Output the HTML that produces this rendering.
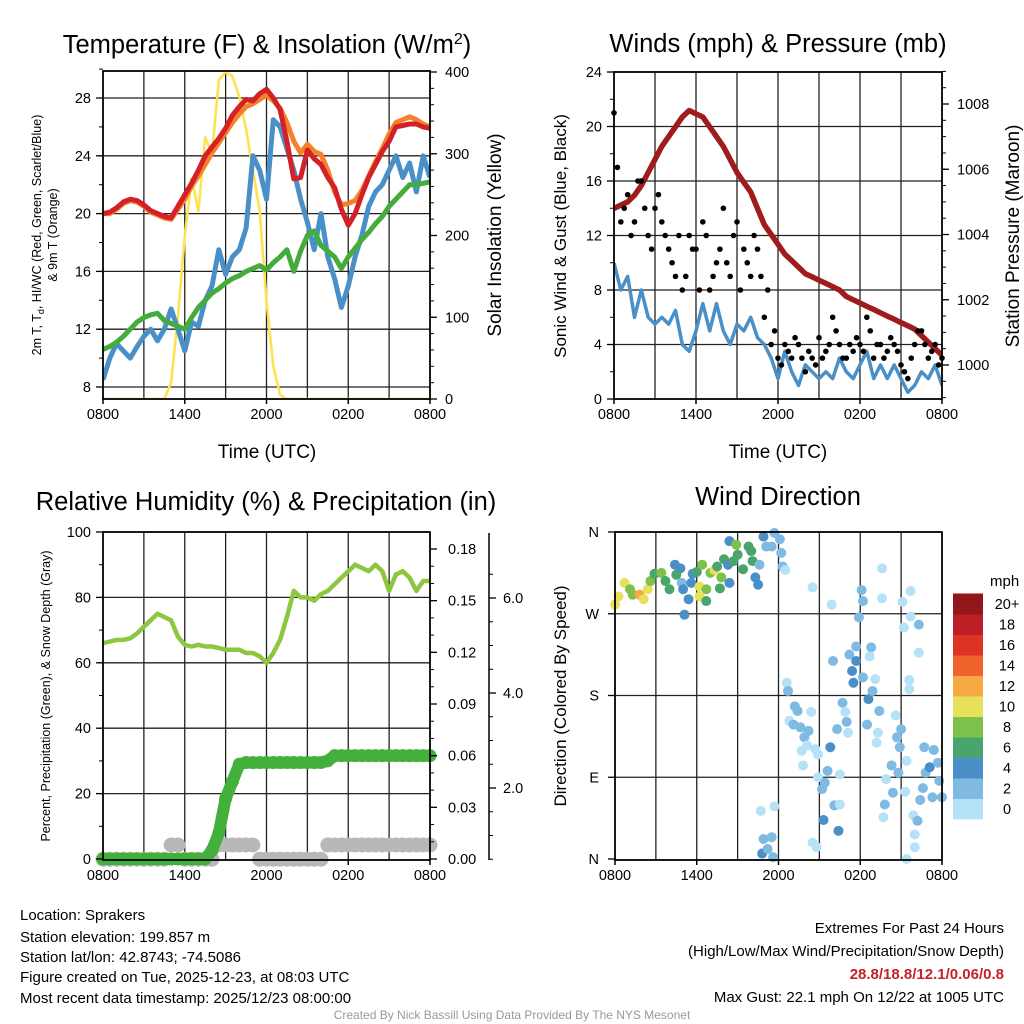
<!DOCTYPE html>
<html><head><meta charset="utf-8">
<style>
html,body{margin:0;padding:0;background:#fff;}
svg{display:block;font-family:"Liberation Sans",Arial,sans-serif;}
</style></head>
<body>
<svg id="c" width="1024" height="1024" viewBox="0 0 1024 1024" xmlns="http://www.w3.org/2000/svg">
<rect x="0" y="0" width="1024" height="1024" fill="#fff"/>
<g id="g"></g>
<text x="267" y="53" font-size="25.5" text-anchor="middle">Temperature (F) &amp; Insolation (W/m<tspan dy="-9" font-size="16">2</tspan><tspan dy="9">)</tspan></text>
<text x="778" y="52" font-size="25.5" text-anchor="middle">Winds (mph) &amp; Pressure (mb)</text>
<text x="266" y="510" font-size="25.5" text-anchor="middle">Relative Humidity (%) &amp; Precipitation (in)</text>
<text x="778" y="505" font-size="25.5" text-anchor="middle">Wind Direction</text>
<text x="267" y="458" font-size="19" text-anchor="middle">Time (UTC)</text>
<text x="778" y="458" font-size="19" text-anchor="middle">Time (UTC)</text>
<text transform="translate(41,235) rotate(-90)" font-size="12.5" text-anchor="middle">2m T, T<tspan dy="3" font-size="9">d</tspan><tspan dy="-3">, HI/WC (Red, Green, Scarlet/Blue)</tspan></text>
<text transform="translate(57,235) rotate(-90)" font-size="12.5" text-anchor="middle">&amp; 9m T (Orange)</text>
<text transform="translate(501,235) rotate(-90)" font-size="19" text-anchor="middle">Solar Insolation (Yellow)</text>
<text transform="translate(566,236) rotate(-90)" font-size="17" text-anchor="middle">Sonic Wind &amp; Gust (Blue, Black)</text>
<text transform="translate(1019,236) rotate(-90)" font-size="19" text-anchor="middle">Station Pressure (Maroon)</text>
<text transform="translate(50,696) rotate(-90)" font-size="12.5" text-anchor="middle">Percent, Precipitation (Green), &amp; Snow Depth (Gray)</text>
<text transform="translate(566,696) rotate(-90)" font-size="17" text-anchor="middle">Direction (Colored By Speed)</text>
<text x="990" y="586" font-size="15">mph</text>
<g font-size="15">
<text x="20" y="920">Location: Sprakers</text>
<text x="20" y="942">Station elevation: 199.857 m</text>
<text x="20" y="962">Station lat/lon: 42.8743; -74.5086</text>
<text x="20" y="982">Figure created on Tue, 2025-12-23, at 08:03 UTC</text>
<text x="20" y="1003">Most recent data timestamp: 2025/12/23 08:00:00</text>
</g>
<g font-size="15" text-anchor="end">
<text x="1004" y="933">Extremes For Past 24 Hours</text>
<text x="1004" y="956">(High/Low/Max Wind/Precipitation/Snow Depth)</text>
<text x="1004" y="979" fill="#c4212a" font-weight="bold">28.8/18.8/12.1/0.06/0.8</text>
<text x="1004" y="1002">Max Gust: 22.1 mph On 12/22 at 1005 UTC</text>
</g>
<text x="512" y="1019" font-size="12" fill="#999" text-anchor="middle">Created By Nick Bassill Using Data Provided By The NYS Mesonet</text>
</svg>
<script>
// ---- data (half-hourly, hour 0 = 0800 UTC) ----
const xTickLabels = ["0800","1400","2000","0200","0800"];
const tempRed = [20.0,20.1,20.4,20.8,21.0,20.9,20.6,20.2,20.0,19.8,19.7,20.5,21.3,22.1,23.0,24.0,24.6,25.2,25.9,26.8,27.4,27.9,27.8,28.3,28.6,28.0,27.2,25.0,22.4,22.5,24.4,23.8,23.4,22.5,21.8,20.3,19.2,20.0,21.3,22.5,23.4,24.3,25.0,26.0,26.1,26.2,26.2,26.0,25.9];
const tempOrange = [20.0,20.0,20.3,20.7,20.9,20.8,20.5,20.1,19.9,19.7,19.6,20.3,21.0,21.9,22.6,23.4,24.2,24.9,25.6,26.3,26.9,27.4,27.6,27.9,28.2,27.8,27.3,26.3,25.0,24.2,24.8,24.3,24.1,23.0,21.5,20.6,20.7,20.9,21.6,22.6,23.6,24.5,25.5,26.3,26.5,26.7,26.5,26.2,26.0];
const tempDew = [10.6,10.8,11.1,11.5,12.0,12.5,12.8,13.0,13.1,12.6,12.4,12.2,12.0,12.8,13.5,14.0,14.5,14.8,15.2,15.5,15.7,16.0,16.2,16.4,16.1,16.6,17.0,17.5,16.0,17.4,18.5,18.8,17.8,17.4,17.0,16.2,17.0,17.6,18.2,18.7,19.3,19.8,20.5,21.0,21.5,22.0,22.0,22.1,22.2];
const tempChill = [8.5,10.0,11.0,10.5,10.0,10.8,11.5,12.0,11.2,12.0,13.4,12.0,10.5,12.5,12.2,14.0,15.0,17.5,15.8,17.0,17.5,19.0,24.0,23.0,21.0,26.5,26.0,24.5,23.0,21.0,19.4,17.5,20.0,17.0,15.5,13.5,15.0,17.0,18.5,20.5,21.5,22.0,23.0,24.0,22.5,23.5,21.5,24.0,22.5];
const solar = [0,0,0,0,0,0,0,0,0,0,20,100,200,270,230,320,300,390,400,395,370,330,280,230,120,40,5,0,0,0,0,0,0,0,0,0,0,0,0,0,0,0,0,0,0,0,0,0,0];
const windSpeed = [10,8,9,6,8,6,5.5,6,5.5,6.5,4,3.5,5,7,5,7,5,4,5.5,5,6,4.5,4,3,1.5,3.5,2,1,2.5,2,1.5,2,1.5,3,2,1.5,2.5,3.5,1.5,2.5,1.5,2.5,1.5,0.5,1,2,1.5,2.5,1];
const windGust = [21,13,15,13,16,12,14,13,11,9,8,12,11,13,8,10,14,9,13,11,9,11,6,4,3,4,3,4,2,3,4.5,3.5,6,4,3,3.5,4,6,3,4,3.5,4,2.5,1.5,4,5,3,4,3];
const windGustB = [17,14,12,16,14,11,15,12,10,12,9,11,8,12,9,11,10,12,8,10,12,9,8,5,2.5,3.5,4.5,3,3.5,2.5,3,4,5,3,4,4.5,3.5,5,4,3,4.5,3.5,2,3,5,4,3.5,2.5];
const pressure = [1004.8,1004.9,1005.0,1005.2,1005.5,1005.9,1006.3,1006.7,1007.0,1007.3,1007.6,1007.8,1007.7,1007.6,1007.3,1007.0,1006.7,1006.3,1005.9,1005.6,1005.3,1004.8,1004.3,1004.0,1003.7,1003.4,1003.2,1003.0,1002.8,1002.7,1002.6,1002.5,1002.4,1002.3,1002.1,1002.0,1001.9,1001.8,1001.7,1001.6,1001.5,1001.4,1001.3,1001.2,1001.1,1000.9,1000.7,1000.5,1000.3];
const relHum = [66,66.5,67,67,67.5,69,71,73,75,74,73,68,65.5,65,65.5,65,65,64.5,64,64,64,63,63,62,60,63,67,74,82,80,80,79,81,82,84,86,88,90,89,88,90,88,82,87,88,86,82,85,85];
const precip = [0,0,0,0,0,0,0,0,0,0,0,0,0,0,0,0,0.005,0.015,0.035,0.045,0.055,0.056,0.056,0.056,0.056,0.056,0.056,0.056,0.056,0.056,0.056,0.056,0.056,0.057,0.06,0.06,0.06,0.06,0.06,0.06,0.06,0.06,0.06,0.06,0.06,0.06,0.06,0.06,0.06];
const snowDepth = [0.5,0.5,0.5,0.5,0.5,0.5,0.5,0.5,0.5,0.5,0.8,0.8,0.5,0.5,0.5,0.5,0.5,0.8,0.8,0.8,0.8,0.8,0.8,0.5,0.5,0.5,0.5,0.5,0.5,0.5,0.5,0.5,0.5,0.8,0.8,0.8,0.8,0.8,0.8,0.8,0.8,0.8,0.8,0.8,0.8,0.8,0.8,0.8,0.8];
const dirHours = [0,0.25,0.7,1.1,1.3,1.8,2.1,2.4,2.6,2.9,3.4,3.7,4.0,4.4,4.8,4.5,4.9,5.0,5.1,5.4,5.6,5.7,6.0,6.2,6.4,6.2,6.7,6.7,7.0,7.3,7.5,7.7,7.8,8.0,8.4,8.3,8.4,8.7,8.9,9.0,9.4,9.8,10.0,10.1,10.3,10.5,10.6,10.9,11.1,11.5,11.7,12.1,12.2,12.3,12.5,
10.7,10.9,11.5,10.8,11.2,11.6,11.7,12.6,12.7,13.2,13.4,12.8,13.1,13.6,14.2,13.9,13.7,14.1,14.4,13.8,14.7,14.9,14.9,15.2,15.4,14.5,14.8,14.5,15.9,15.8,15.6,16.0,15.3,16.3,16.1,16.4,16.5,16.5,16.7,16.9,17.0,17.1,17.2,17.4,17.5,17.7,17.7,17.9,18.1,18.2,18.2,18.5,18.6,18.8,18.7,18.9,19.1,19.3,19.4,19.6,19.6,19.2,19.8,19.7,19.9,20.3,20.4,20.6,20.7,20.9,21.0,20.8,21.1,21.2,21.4,21.3,21.4,21.7,21.7,21.6,21.6,21.9,22.0,22.0,22.2,22.3,22.3,22.4,22.6,22.7,22.8,23.1,23.3,23.4,23.7,23.8,24.0];
const dirDegrees = [280,289,304,297,291,291,286,297,306,314,315,306,297,324,320,313,304,297,269,286,304,314,316,300,324,289,297,284,315,318,322,298,310,330,350,324,304,328,346,335,319,344,339,328,310,302,324,355,344,344,359,352,337,322,318,
53,22,24,6,11,2,58,194,185,168,163,152,148,145,141,134,119,125,162,103,121,115,90,77,84,18,13,299,280,123,97,218,43,143,59,31,60,93,172,162,151,139,225,207,194,234,218,266,296,284,200,148,176,233,223,185,198,139,163,320,287,128,60,46,88,103,73,158,134,123,143,95,283,255,108,74,0,295,267,187,197,48,27,13,42,258,227,65,78,123,95,101,68,120,106,86,68];
const dirSpeeds = [10.5,10.5,10.5,8.5,8.5,12.5,10.5,10.5,8.5,6.5,8.5,6.5,6.5,4.5,4.5,6.5,2.5,4.5,4.5,4.5,4.5,4.5,6.5,10.5,8.5,10.5,8.5,6.5,8.5,10.5,6.5,6.5,8.5,6.5,4.5,4.5,4.5,6.5,8.5,6.5,6.5,6.5,6.5,6.5,4.5,4.5,2.5,4.5,2.5,2.5,2.5,2.5,2.5,2.5,0.5,
0.5,2.5,2.5,4.5,2.5,2.5,0.5,0.5,2.5,2.5,2.5,0.5,2.5,2.5,2.5,2.5,0.5,0.5,0.5,0.5,0.5,0.5,0.5,2.5,2.5,0.5,0.5,0.5,0.5,4.5,2.5,2.5,4.5,2.5,2.5,4.5,0.5,0.5,2.5,0.5,2.5,0.5,2.5,4.5,4.5,2.5,4.5,2.5,2.5,2.5,2.5,2.5,4.5,2.5,0.5,2.5,0.5,0.5,2.5,0.5,0.5,0.5,2.5,0.5,0.5,2.5,2.5,0.5,2.5,2.5,2.5,2.5,0.5,0.5,0.5,0.5,0.5,0.5,0.5,0.5,0.5,0.5,0.5,0.5,2.5,2.5,0.5,2.5,2.5,2.5,2.5,4.5,2.5,2.5,2.5,2.5,2.5];
const speedColors = ["#b5e2f7","#7fbae2","#4a8fc6","#4aa56c","#7dc04b","#e6e05a","#f6a945","#f0622c","#dd3327","#bd1f26","#93161a"];
const speedLabels = ["0","2","4","6","8","10","12","14","16","18","20+"];

// ---- drawing ----
const NS = "http://www.w3.org/2000/svg";
const G = document.getElementById("g");
function mk(tag, attrs, parent) {
  const e = document.createElementNS(NS, tag);
  for (const k in attrs) e.setAttribute(k, attrs[k]);
  (parent || G).appendChild(e);
  return e;
}
function lin(d0, d1, r0, r1) { return v => r0 + (v - d0) * (r1 - r0) / (d1 - d0); }
function pathOf(arr, xs, ys) { return arr.map((v, i) => (i ? "L" : "M") + xs(i * 0.5).toFixed(1) + "," + ys(v).toFixed(1)).join(""); }

function panelFrame(name, x0, x1, y0, y1, hGrid) {
  const xs = lin(0, 24, x0, x1);
  for (let h = 3; h < 24; h += 3) {
    const l = mk("line", {x1: xs(h), x2: xs(h), y1: y0, y2: y1, stroke: "#222", "stroke-width": 1.3});
    
    
  }
  hGrid.forEach(y => {
    const l = mk("line", {x1: x0, x2: x1, y1: y, y2: y, stroke: "#222", "stroke-width": 1.3});
    
    
  });
  const ty = y1 + 20;
  xTickLabels.forEach((t, i) => {
    const xx = xs(i * 6);
    const tk = mk("line", {x1: xx, x2: xx, y1: y1, y2: y1 + 5, stroke: "#000", "stroke-width": 1.5});
    
    
    const tx = mk("text", {x: xx, y: ty, "font-size": 14.5, "text-anchor": "middle"});
    tx.textContent = t;
    
    
  });
  return xs;
}
function frameBox(name, x0, x1, y0, y1) {
  const r = mk("rect", {x: x0, y: y0, width: x1 - x0, height: y1 - y0, fill: "none", stroke: "#000", "stroke-width": 1.8});
  
  
}
function yAxis(name, xAxis, side, ys, vals, labels, minors, dx) {
  const dir = side === "left" ? -1 : 1;
  minors.forEach(v => {
    const t = mk("line", {x1: xAxis, x2: xAxis + dir * 4, y1: ys(v), y2: ys(v), stroke: "#000", "stroke-width": 1});
    
    
  });
  vals.forEach((v, i) => {
    const t = mk("line", {x1: xAxis, x2: xAxis + dir * 7, y1: ys(v), y2: ys(v), stroke: "#000", "stroke-width": 1.3});
    
    
    const tx = mk("text", {x: xAxis + dir * (dx || 10), y: ys(v) + 5, "font-size": 14.5, "text-anchor": side === "left" ? "end" : "start"});
    tx.textContent = labels[i];
    
    
  });
}
function range(a, b, s) { const r = []; for (let v = a; v <= b + 1e-9; v += s) r.push(+v.toFixed(4)); return r; }

// Panel 1: temperature
(function () {
  const x0 = 103, x1 = 430, y0 = 71, y1 = 399;
  const ys = lin(8, 28, 387, 98);
  const ysS = lin(0, 400, 399, 72);
  const xs = panelFrame("temp", x0, x1, y0, y1, [8, 12, 16, 20, 24, 28].map(ys));
  const clip = mk("clipPath", {id: "c1"});
  
  
  mk("rect", {x: x0, y: y0, width: x1 - x0, height: y1 - y0}, clip);
  const series = [[solar, "#fde253", 2.6, ysS, "solar-line"], [tempChill, "#4a90c8", 5, ys, "windchill-line"], [tempDew, "#43ac3b", 5, ys, "dewpoint-line"], [tempOrange, "#f5822a", 5, ys, "temp9m-line"], [tempRed, "#d42027", 5, ys, "temp2m-line"]];
  series.forEach(s => {
    const p = mk("path", {d: pathOf(s[0], xs, s[3]), fill: "none", stroke: s[1], "stroke-width": s[2], "stroke-linejoin": "round", "clip-path": "url(#c1)"});
    
    
  });
  frameBox("temp", x0, x1, y0, y1);
  yAxis("temp-y", x0, "left", ys, [8, 12, 16, 20, 24, 28], ["8", "12", "16", "20", "24", "28"], range(8, 30, 2), 12);
  yAxis("solar-y", x1, "right", ysS, [0, 100, 200, 300, 400], ["0", "100", "200", "300", "400"], range(0, 400, 20), 15);
})();

// Panel 2: winds
(function () {
  const x0 = 614, x1 = 942, y0 = 72, y1 = 399;
  const ys = lin(0, 24, 399, 72);
  const ysP = lin(1000, 1008, 365, 104);
  const xs = panelFrame("wind", x0, x1, y0, y1, [4, 8, 12, 16, 20].map(ys));
  const clip = mk("clipPath", {id: "c2"});
  
  
  mk("rect", {x: x0, y: y0, width: x1 - x0, height: y1 - y0}, clip);
  const wl = mk("path", {d: pathOf(windSpeed, xs, ys), fill: "none", stroke: "#4a90c8", "stroke-width": 3.5, "stroke-linejoin": "round", "clip-path": "url(#c2)"});
  
  
  const pl = mk("path", {d: pathOf(pressure, xs, ysP), fill: "none", stroke: "#a01c1c", "stroke-width": 5.5, "stroke-linejoin": "round", "clip-path": "url(#c2)"});
  
  
  windGust.forEach((v, i) => {
    const c = mk("circle", {cx: xs(i * 0.5), cy: ys(v), r: 2.8, fill: "#000"});
    
    
  });
  windGustB.forEach((v, i) => {
    const c = mk("circle", {cx: xs(i * 0.5 + 0.25), cy: ys(v), r: 2.8, fill: "#000"});
    
    
  });
  frameBox("wind", x0, x1, y0, y1);
  yAxis("wind-y", x0, "left", ys, [0, 4, 8, 12, 16, 20, 24], ["0", "4", "8", "12", "16", "20", "24"], range(0, 24, 2), 12);
  yAxis("pressure-y", x1, "right", ysP, [1000, 1002, 1004, 1006, 1008], ["1000", "1002", "1004", "1006", "1008"], range(999, 1009, 0.5), 15);
})();

// Panel 3: RH & precip
(function () {
  const x0 = 103, x1 = 430, y0 = 532, y1 = 860;
  const ys = lin(0, 100, 859, 532);
  const ysPr = lin(0, 0.18, 859, 549);
  const ysSn = lin(0, 2, 883, 788);
  const xs = panelFrame("rh", x0, x1, y0, y1, [20, 40, 60, 80].map(ys));
  const clip = mk("clipPath", {id: "c3"});
  
  
  mk("rect", {x: x0 - 10, y: y0, width: x1 - x0 + 20, height: y1 - y0 + 10}, clip);
  snowDepth.forEach((v, i) => {
    const c = mk("circle", {cx: xs(i * 0.5), cy: ysSn(v), r: 7.5, fill: "#b8b8b8", "clip-path": "url(#c3)"});
    
    
  });
  precip.forEach((v, i) => {
    const c = mk("circle", {cx: xs(i * 0.5), cy: ysPr(v), r: 6.5, fill: "#44b03c"});
    
    
  });
  const pl = mk("path", {d: pathOf(precip, xs, ysPr), fill: "none", stroke: "#44b03c", "stroke-width": 12, "stroke-linejoin": "round"});
  
  
  const rl = mk("path", {d: pathOf(relHum, xs, ys), fill: "none", stroke: "#8dc63f", "stroke-width": 4.5, "stroke-linejoin": "round"});
  
  
  frameBox("rh", x0, x1, y0, y1);
  yAxis("rh-y", x0, "left", ys, [0, 20, 40, 60, 80, 100], ["0", "20", "40", "60", "80", "100"], range(0, 100, 10), 12);
  yAxis("precip-y", x1, "right", ysPr, [0, 0.03, 0.06, 0.09, 0.12, 0.15, 0.18], ["0.00", "0.03", "0.06", "0.09", "0.12", "0.15", "0.18"], range(0, 0.18, 0.01), 18);
  const sx = 489;
  const ax = mk("line", {x1: sx, x2: sx, y1: 533, y2: 860, stroke: "#000", "stroke-width": 1.5});
  
  
  yAxis("snow-y", sx, "right", ysSn, [2, 4, 6], ["2.0", "4.0", "6.0"], range(0.5, 6.5, 0.5), 14);
})();

// Panel 4: wind direction
(function () {
  const x0 = 615, x1 = 942, y0 = 532, y1 = 860;
  const ys = lin(0, 360, 859, 532);
  const xs = panelFrame("dir", x0, x1, y0, y1, [90, 180, 270].map(ys));
  dirHours.forEach((h, i) => {
    const idx = Math.min(10, Math.floor(dirSpeeds[i] / 2));
    const c = mk("circle", {cx: xs(h), cy: ys(dirDegrees[i]), r: 5, fill: speedColors[idx]});
    
    
  });
  frameBox("dir", x0, x1, y0, y1);
  yAxis("dir-y", x0, "left", ys, [0, 90, 180, 270, 360], ["N", "E", "S", "W", "N"], [], 16);
  const bx = 953, by = 819, bh = 20.5;
  speedColors.forEach((col, i) => {
    const r = mk("rect", {x: bx, y: by - (i + 1) * bh, width: 30, height: bh + 0.5, fill: col});
    
    
    const t = mk("text", {x: 1007, y: by - i * bh - bh / 2 + 5, "font-size": 14.5, "text-anchor": "middle"});
    t.textContent = speedLabels[i];
    
    
  });
})();
</script>
</body></html>
